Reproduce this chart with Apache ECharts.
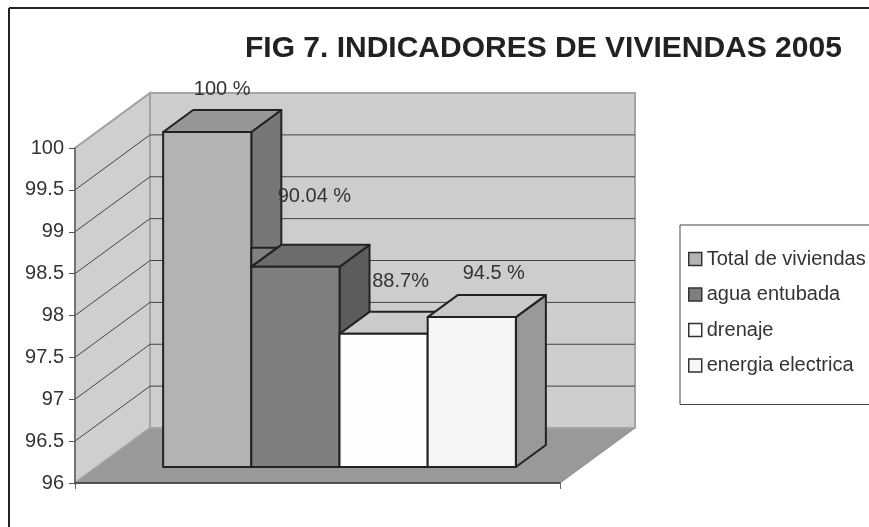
<!DOCTYPE html>
<html>
<head>
<meta charset="utf-8">
<style>html,body{margin:0;padding:0;background:#fff}#chart{width:869px;height:527px}</style>
<script src="https://cdn.jsdelivr.net/npm/echarts@6/dist/echarts.min.js"></script>
</head>
<body>
<div id="chart"></div>
<script>
// chart values
var categories = ['Viviendas'];
var seriesNames = ['Total de viviendas', 'agua entubada', 'drenaje', 'energia electrica'];
var barValues = [100, 98.39, 97.59, 97.79];
var barLabels = ['100 %', '90.04 %', '88.7%', '94.5 %'];
var yTicks = [96, 96.5, 97, 97.5, 98, 98.5, 99, 99.5, 100];

// per bar colours: front, top, side
var frontColors = ['#b3b3b3', '#7f7f7f', '#fefefe', '#f6f6f6'];
var topColors = ['#969696', '#6c6c6c', '#cbcbcb', '#c9c9c9'];
var sideColors = ['#777777', '#5c5c5c', '#999999', '#999999'];
// hand placed labels, relative to the top middle of each bar
var labelNudgeX = [15, 19, 17, 22];
var labelNudgeY = [-43, -70, -52, -44];

// fake 3d offsets
var wallDx = 75, wallDy = -55;
var barShiftX = 22, barShiftY = -16;
var barDepthX = 30, barDepthY = -22;
var gapRatio = 1.5; // excel gap width 150%
var fontName = '"Liberation Sans", Arial, sans-serif';

function renderWalls(params, api) {
  var a = api.coord([0, yTicks[0]]);
  var b = api.coord([0, yTicks[yTicks.length - 1]]);
  var w = api.size([1, 0])[0];
  var left = a[0] - w / 2, right = a[0] + w / 2, bottom = a[1], top = b[1];
  return {
    type: 'group',
    children: [
      {type: 'polygon', shape: {points: [[left, bottom], [left + wallDx, bottom + wallDy], [right + wallDx, bottom + wallDy], [right, bottom]]},
        style: {fill: '#999999', stroke: '#8c8c8c', lineWidth: 1}},
      {type: 'polygon', shape: {points: [[left, bottom], [left + wallDx, bottom + wallDy], [left + wallDx, top + wallDy], [left, top]]},
        style: {fill: '#cfcfcf', stroke: '#a0a0a0', lineWidth: 2}},
      {type: 'rect', shape: {x: left + wallDx, y: top + wallDy, width: right - left, height: bottom - top},
        style: {fill: '#cdcdcd', stroke: '#a4a4a4', lineWidth: 2}}
    ]
  };
}

function renderGridLine(params, api) {
  var p = api.coord([0, api.value(1)]);
  var w = api.size([1, 0])[0];
  var left = p[0] - w / 2, right = p[0] + w / 2;
  return {
    type: 'polyline',
    shape: {points: [[left, p[1]], [left + wallDx, p[1] + wallDy], [right + wallDx, p[1] + wallDy]]},
    style: {fill: null, stroke: '#444', lineWidth: 1}
  };
}

function renderBar(params, api) {
  var k = params.seriesIndex - 2;
  var p = api.coord([api.value(0), api.value(1)]);
  var base = api.coord([api.value(0), yTicks[0]]);
  var band = api.size([1, 0])[0];
  var barW = band / (seriesNames.length + gapRatio);
  var x0 = p[0] - barW * seriesNames.length / 2 + k * barW + barShiftX;
  var x1 = x0 + barW;
  var yTop = p[1] + barShiftY;
  var yBot = base[1] + barShiftY;
  var line = {stroke: '#222', lineWidth: 2, lineJoin: 'round'};
  var children = [
    {type: 'polygon', shape: {points: [[x1, yTop], [x1 + barDepthX, yTop + barDepthY], [x1 + barDepthX, yBot + barDepthY], [x1, yBot]]},
      style: Object.assign({fill: sideColors[k]}, line)},
    {type: 'polygon', shape: {points: [[x0, yTop], [x0 + barDepthX, yTop + barDepthY], [x1 + barDepthX, yTop + barDepthY], [x1, yTop]]},
      style: Object.assign({fill: topColors[k]}, line)},
    {type: 'rect', shape: {x: x0, y: yTop, width: barW, height: yBot - yTop},
      style: Object.assign({fill: frontColors[k]}, line)},
    {type: 'text', x: (x0 + x1) / 2 + labelNudgeX[k], y: yTop + labelNudgeY[k],
      style: {text: barLabels[k], fontFamily: fontName, fontSize: 20, fill: '#333', align: 'center', verticalAlign: 'middle'}}
  ];
  // the original has a small leftover wedge behind the top of the second bar
  if (k === 1) {
    children.unshift({type: 'polygon',
      shape: {points: [[x0, yTop - 19], [x0 + barDepthX * 19 / 22, yTop - 19], [x0, yTop]]},
      style: Object.assign({fill: '#808080'}, line)});
  }
  return {type: 'group', children: children};
}

var series = [
  {type: 'custom', name: 'walls', z: 1, silent: true, renderItem: renderWalls, data: [[0, yTicks[0]]]},
  {type: 'custom', name: 'gridlines', z: 1, silent: true, renderItem: renderGridLine,
    data: yTicks.slice(1, -1).map(function (t) { return [0, t]; })}
];
seriesNames.forEach(function (name, i) {
  series.push({
    type: 'custom', name: name, z: 2, renderItem: renderBar,
    itemStyle: {color: frontColors[i]},
    data: [[0, barValues[i]]]
  });
});

var myChart = echarts.init(document.getElementById('chart'), null, {renderer: 'canvas'});
myChart.setOption({
  animation: false,
  backgroundColor: '#fff',
  title: {
    text: 'FIG 7. INDICADORES DE VIVIENDAS 2005',
    left: 245, top: 34, padding: 0,
    textStyle: {fontFamily: fontName, fontSize: 30, fontWeight: 'bold', color: '#222'}
  },
  legend: {
    orient: 'vertical', left: 680, top: 225,
    padding: [24, 30, 29, 8],
    borderColor: '#444', borderWidth: 1,
    itemWidth: 13, itemHeight: 13, itemGap: 15.5,
    icon: 'rect',
    textStyle: {fontFamily: fontName, fontSize: 20, color: '#333'},
    data: seriesNames.map(function (name, i) {
      return {name: name, itemStyle: {color: frontColors[i], borderColor: '#333', borderWidth: 1.5}};
    })
  },
  grid: {left: 75, right: 309, top: 148, bottom: 44},
  xAxis: {
    type: 'category', data: categories, z: 3,
    axisLine: {lineStyle: {color: '#333', width: 1.5}},
    axisTick: {show: true, length: 6, lineStyle: {color: '#666'}},
    axisLabel: {show: false}
  },
  yAxis: {
    type: 'value', min: 96, max: 100, interval: 0.5, z: 3,
    axisLine: {show: true, lineStyle: {color: '#666', width: 1.5}},
    axisTick: {show: true, length: 6, lineStyle: {color: '#555'}},
    axisLabel: {fontFamily: fontName, fontSize: 20, color: '#333', margin: 11},
    splitLine: {show: false}
  },
  series: series,
  // outer frame of the scanned figure, only top and left are visible
  graphic: [
    {type: 'line', shape: {x1: 9, y1: 8, x2: 869, y2: 8}, style: {stroke: '#222', lineWidth: 2}},
    {type: 'line', shape: {x1: 9, y1: 8, x2: 9, y2: 527}, style: {stroke: '#222', lineWidth: 2}}
  ]
});
</script>
</body>
</html>
